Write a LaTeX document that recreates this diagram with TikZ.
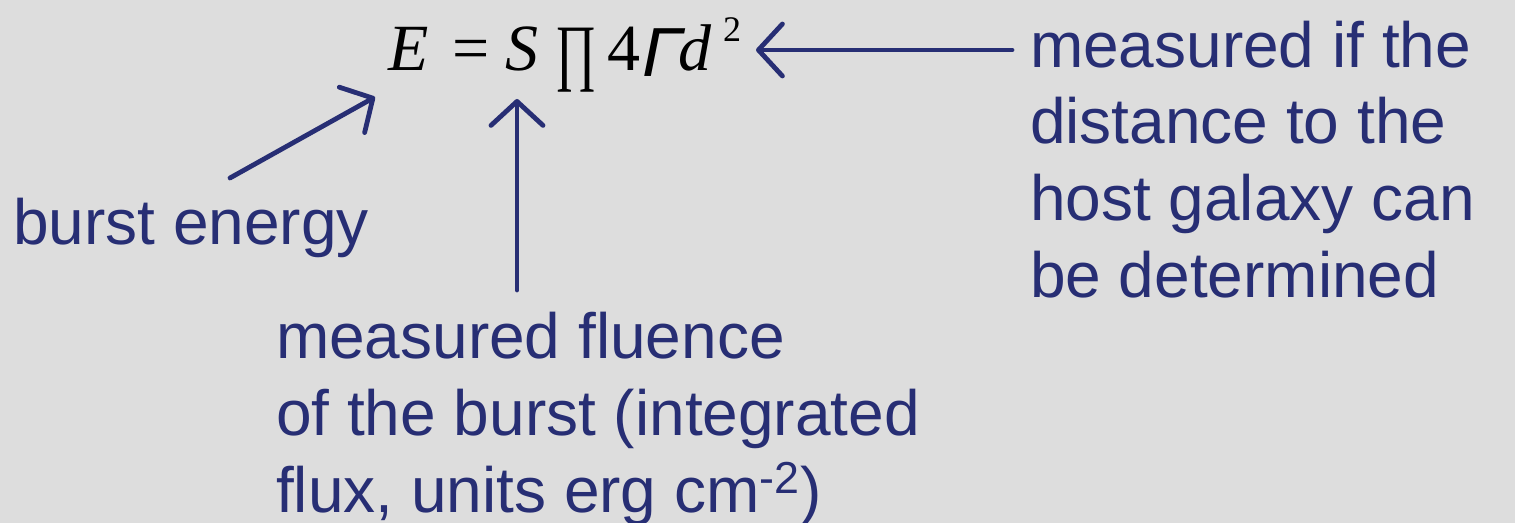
\documentclass[tikz,border=0pt]{standalone}
\usepackage{graphicx}
\usepackage{fontspec}
\setmainfont{Liberation Sans}
\newfontfamily\eqfont{Liberation Serif}
\usetikzlibrary{arrows.meta}
\definecolor{bg}{HTML}{DDDDDD}
\definecolor{navy}{HTML}{272E74}
\tikzset{
  lbl/.style={inner sep=0pt, outer sep=0pt, align=left, text=navy,
    font=\fontsize{32}{38.4}\selectfont},
  eqg/.style={inner sep=0pt, outer sep=0pt, anchor=base west, text=black,
    font=\eqfont\fontsize{33}{39}\selectfont},
  pointer/.style={draw=navy, line width=2.4pt, line cap=round,
    -{Straight Barb[length=12pt,width=26pt,round]}}
}
\begin{document}
\begin{tikzpicture}[x=0.5pt,y=-0.5pt]
\fill[bg] (0,0) rectangle (1515,523);
\useasboundingbox (0,0) rectangle (1515,523);
% equation
\node[eqg] (eqE) at (388,71) {\itshape E};
\node[eqg] (eqeq) at (452,71) {=};
\node[eqg] (eqS) at (505,71) {\itshape S};
\node[eqg] (eqP) at (555,77) {\scalebox{0.76}[1.12]{∏}};
\node[eqg] (eq4) at (607,71) {4};
\node[eqg, font=\fontsize{31}{36}\selectfont\itshape] (eqG) at (642,77) {\scalebox{1.15}[1.12]{Γ}};
\node[eqg] (eqd) at (678,71) {\itshape d};
\node[eqg, font=\eqfont\fontsize{18}{22}\selectfont] (eqsq) at (723,42) {2};
% labels
\node[lbl, anchor=base west] (burst) at (13,245) {burst energy};
\node[lbl, anchor=base west] (fluence) at (276,512) {measured fluence\\of the burst (integrated\\flux, units erg cm\textsuperscript{-2})};
\node[lbl, anchor=base west] (dist) at (1030,297.5) {measured if the\\distance to the\\host galaxy can\\be determined};
% connector ends
\coordinate (a1s) at (230,178);
\coordinate (a1e) at (375,97);
\coordinate (a2s) at (517,290);
\coordinate (a2e) at (517,99);
\coordinate (a3s) at (1012,50);
\coordinate (a3e) at (756,50);
\draw[pointer] (a1s) -- (a1e);
\draw[pointer] (a2s) -- (a2e);
\draw[pointer] (a3s) -- (a3e);
\end{tikzpicture}
\end{document}
